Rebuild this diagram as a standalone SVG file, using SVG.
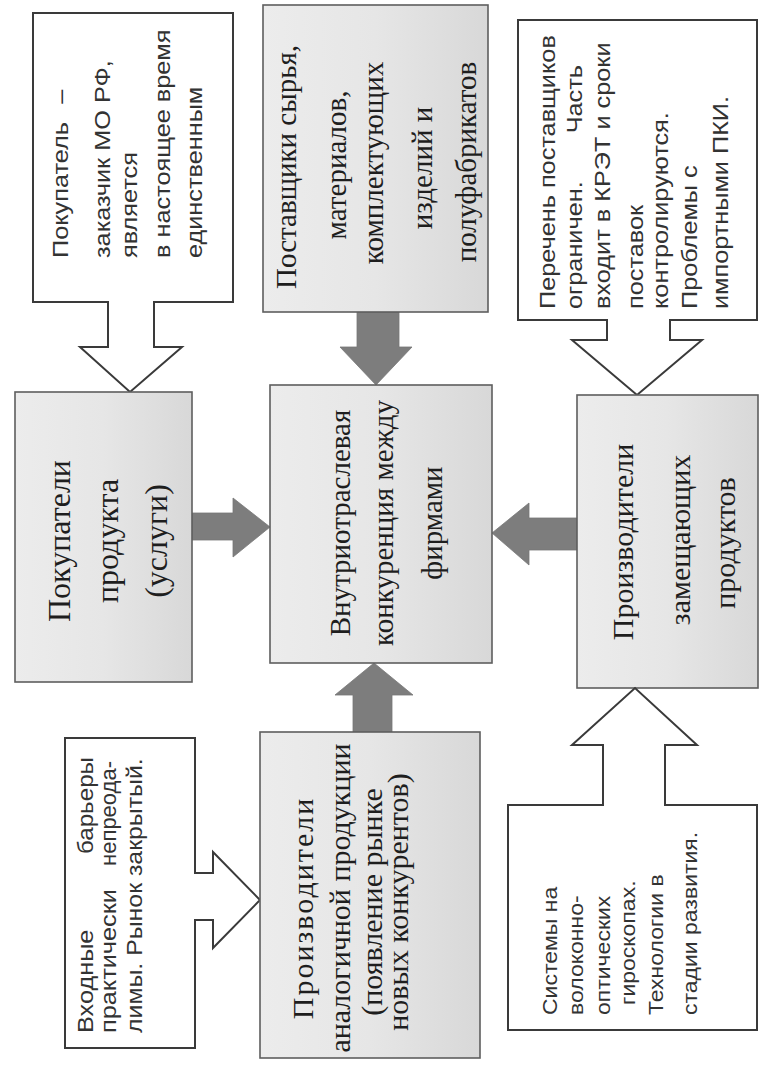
<svg xmlns="http://www.w3.org/2000/svg" width="759" height="1066" viewBox="0 0 759 1066">
<style>
.bg{fill:#fff}
.callout{fill:#fff;stroke:#3a3a3a;stroke-width:2;stroke-linejoin:miter}
.box{fill:url(#boxfill);stroke:#5e5e5e;stroke-width:1.6}
.garrow{fill:#7d7d7d;stroke:#777;stroke-width:0.8}
.sans{font-family:"Liberation Sans",Arial,sans-serif;font-size:22px;fill:#333}
.sans20{font-family:"Liberation Sans",Arial,sans-serif;font-size:20px;fill:#333}
.serif{font-family:"Liberation Serif","Times New Roman",serif;font-size:29px;fill:#1e1e1e;text-anchor:middle}
</style>
<defs>
<linearGradient id="boxfill" x1="0" y1="0" x2="1" y2="0">
<stop offset="0" stop-color="#ececec"/>
<stop offset="0.5" stop-color="#e6e6e6"/>
<stop offset="1" stop-color="#d8d8d8"/>
</linearGradient>
</defs>
<rect class="bg" x="0" y="0" width="759" height="1066"/>

<g id="connectors">
<polygon id="arrow-left" class="garrow" points="192,513 233,513 233,498 270,527 233,557 233,540 192,540"/>
<polygon id="arrow-right" class="garrow" points="577,518 529,518 529,503 492,533 529,565 529,550 577,550"/>
<polygon id="arrow-top" class="garrow" points="357,312 399,312 399,347 412,347 376,385 340,347 357,347"/>
<polygon id="arrow-bottom" class="garrow" points="353,732 392,732 392,695 413,695 374,663 335,695 353,695"/>
</g>

<g id="callout-buyer">
<polygon class="callout" points="33,13 233,13 233,302 154,302 154,347 182,347 130,392 80,347 108,347 108,302 33,302"/>
<text class="sans" transform="translate(68,258) rotate(-90) scale(1.15,1)">Покупатель <tspan dx="10">–</tspan></text>
<text class="sans" transform="translate(110,258) rotate(-90) scale(1.15,1)">заказчик МО РФ,</text>
<text class="sans" transform="translate(137,258) rotate(-90) scale(1.15,1)">является</text>
<text class="sans" transform="translate(170,258) rotate(-90) scale(1.15,1)">в настоящее время</text>
<text class="sans" transform="translate(202,258) rotate(-90) scale(1.15,1)">единственным</text>
</g>

<g id="node-suppliers">
<rect class="box" x="263" y="5" width="225" height="307"/>
<text class="serif" transform="translate(296,167) rotate(-90)">Поставщики сырья,</text>
<text class="serif" transform="translate(346,165) rotate(-90)">материалов,</text>
<text class="serif" transform="translate(383,163) rotate(-90)">комплектующих</text>
<text class="serif" transform="translate(432,168) rotate(-90)">изделий и</text>
<text class="serif" transform="translate(476,162) rotate(-90)">полуфабрикатов</text>
</g>

<g id="callout-suppliers">
<polygon class="callout" points="518,20 757,20 757,320 670,320 670,340 702,340 637,395 572,340 607,340 607,320 518,320"/>
<text class="sans" transform="translate(555,309) rotate(-90) scale(1.15,1)">Перечень поставщиков</text>
<text class="sans" transform="translate(582,309) rotate(-90) scale(1.15,1)">ограничен.</text>
<text class="sans" text-anchor="end" transform="translate(582,65) rotate(-90) scale(1.15,1)">Часть</text>
<text class="sans" transform="translate(610,309) rotate(-90) scale(1.15,1)">входит в КРЭТ и сроки</text>
<text class="sans" transform="translate(643,309) rotate(-90) scale(1.15,1)">поставок</text>
<text class="sans" transform="translate(668,309) rotate(-90) scale(1.15,1)">контролируются.</text>
<text class="sans" transform="translate(697,309) rotate(-90) scale(1.15,1)">Проблемы с</text>
<text class="sans" transform="translate(728,309) rotate(-90) scale(1.15,1)">импортными ПКИ.</text>
</g>

<g id="node-buyers">
<rect class="box" x="15" y="392" width="177" height="290"/>
<text class="serif" style="font-size:32px" transform="translate(70,541) rotate(-90)">Покупатели</text>
<text class="serif" style="font-size:32px" transform="translate(118,541) rotate(-90)">продукта</text>
<text class="serif" style="font-size:32px" transform="translate(167,541) rotate(-90)">(услуги)</text>
</g>

<g id="node-center">
<rect class="box" x="270" y="385" width="222" height="278"/>
<text class="serif" transform="translate(350,523) rotate(-90)">Внутриотраслевая</text>
<text class="serif" transform="translate(393,523) rotate(-90)">конкуренция между</text>
<text class="serif" transform="translate(442,523) rotate(-90)">фирмами</text>
</g>

<g id="node-substitutes">
<rect class="box" x="577" y="395" width="181" height="293"/>
<text class="serif" style="font-size:30px" transform="translate(633,542) rotate(-90)">Производители</text>
<text class="serif" style="font-size:30px" transform="translate(690,540) rotate(-90)">замещающих</text>
<text class="serif" style="font-size:30px" transform="translate(735,543) rotate(-90)">продуктов</text>
</g>

<g id="callout-entry">
<polygon class="callout" points="65,738 195,738 195,873 213,873 213,852 260,900 213,948 213,920 195,920 195,1048 65,1048"/>
<text class="sans" transform="translate(93,1033) rotate(-90) scale(1.15,1)">Входные</text>
<text class="sans" text-anchor="end" transform="translate(93,757) rotate(-90) scale(1.1,1)">барьеры</text>
<text class="sans" transform="translate(116,1033) rotate(-90) scale(1.15,1)">практически</text>
<text class="sans" text-anchor="end" transform="translate(116,761) rotate(-90) scale(1.0,1)">непреода-</text>
<text class="sans" transform="translate(142,1033) rotate(-90) scale(1.13,1)">лимы. Рынок закрытый.</text>
</g>

<g id="node-newcomers">
<rect class="box" x="260" y="732" width="220" height="326"/>
<text class="serif" style="font-size:30px;letter-spacing:2px" transform="translate(313,908) rotate(-90)">Производители</text>
<text class="serif" style="font-size:30px" transform="translate(350,898) rotate(-90)">аналогичной продукции</text>
<text class="serif" style="font-size:30px" transform="translate(382,902) rotate(-90)">(появление рынке</text>
<text class="serif" style="font-size:30px" transform="translate(408,902) rotate(-90)">новых конкурентов)</text>
</g>

<g id="callout-substitutes">
<polygon class="callout" points="508,805 603,805 603,745 572,745 635,688 697,745 665,745 665,805 757,805 757,1030 508,1030"/>
<text class="sans20" transform="translate(557,1015) rotate(-90) scale(1.15,1)">Системы на</text>
<text class="sans20" transform="translate(583,1015) rotate(-90) scale(1.15,1)">волоконно-</text>
<text class="sans20" transform="translate(610,1015) rotate(-90) scale(1.15,1)">оптических</text>
<text class="sans20" transform="translate(635,1005) rotate(-90) scale(1.15,1)">гироскопах.</text>
<text class="sans20" transform="translate(663,1015) rotate(-90) scale(1.15,1)">Технологии в</text>
<text class="sans20" transform="translate(697,1015) rotate(-90) scale(1.15,1)">стадии развития.</text>
</g>
</svg>
